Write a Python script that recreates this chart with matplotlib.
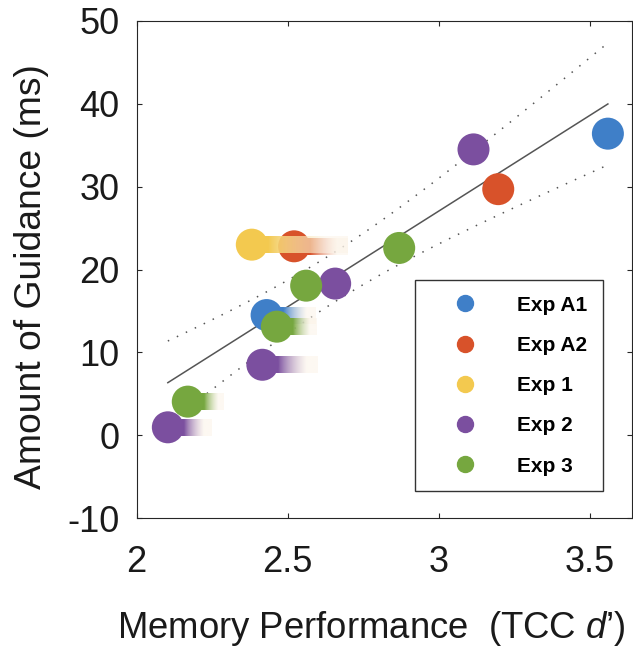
import numpy as np
import matplotlib
matplotlib.use('Agg')
import matplotlib.pyplot as plt
from matplotlib.lines import Line2D
from matplotlib.colors import to_rgb

plt.rcParams['font.family'] = ['Liberation Sans', 'DejaVu Sans']
plt.rcParams['mathtext.fontset'] = 'custom'
plt.rcParams['mathtext.it'] = 'Liberation Sans:italic'
plt.rcParams['mathtext.rm'] = 'Liberation Sans'
plt.rcParams['axes.unicode_minus'] = False

# Data (read off the figure): memory d' and guidance (ms) per experiment,
# tail_end = right end of the faded bar (nan = no bar)
exp_names = ['Exp A1', 'Exp A2', 'Exp 1', 'Exp 2', 'Exp 3']
exp_colors = ['#3f7fc8', '#d8522a', '#f3c94f', '#7b4f9f', '#76a73f']

a1_dprime = [2.430, 3.560]
a1_guidance = [14.5, 36.4]
a1_tail_end = [2.590, np.nan]

a2_dprime = [2.521, 3.197]
a2_guidance = [22.8, 29.7]
a2_tail_end = [2.697, np.nan]

e1_dprime = [2.381]
e1_guidance = [23.0]
e1_tail_end = [2.697]

e2_dprime = [2.103, 2.416, 2.657, 3.115]
e2_guidance = [0.95, 8.5, 18.3, 34.5]
e2_tail_end = [2.248, 2.600, np.nan, np.nan]

e3_dprime = [2.169, 2.464, 2.561, 2.869]
e3_guidance = [4.05, 13.1, 18.05, 22.6]
e3_tail_end = [2.286, 2.596, np.nan, np.nan]

groups = [(a1_dprime, a1_guidance, a1_tail_end),
          (a2_dprime, a2_guidance, a2_tail_end),
          (e1_dprime, e1_guidance, e1_tail_end),
          (e2_dprime, e2_guidance, e2_tail_end),
          (e3_dprime, e3_guidance, e3_tail_end)]

T_CRIT = 2.201  # t(0.975, df=11)

fig = plt.figure(figsize=(6.33, 6.52), dpi=100)
ax = fig.add_axes([0.216, 0.2055, 0.7825, 0.7623])

# regression line with 95% confidence bounds
all_x = np.concatenate([np.array(g[0]) for g in groups])
all_y = np.concatenate([np.array(g[1]) for g in groups])
slope, icpt = np.polyfit(all_x, all_y, 1)
n = len(all_x)
resid = all_y - (slope * all_x + icpt)
s = np.sqrt(np.sum(resid**2) / (n - 2))
sxx = np.sum((all_x - all_x.mean())**2)
xf = np.linspace(all_x.min(), all_x.max(), 100)
yf = slope * xf + icpt
half = T_CRIT * s * np.sqrt(1 / n + (xf - all_x.mean())**2 / sxx)

ax.plot(xf, yf, color='#555555', lw=1.1, zorder=1)
ax.plot(xf, yf + half, color='#555555', lw=1.1, ls=(0, (1, 5.5)), zorder=1)
ax.plot(xf, yf - half, color='#555555', lw=1.1, ls=(0, (1, 5.5)), zorder=1)

# points with faded tails
radius = 0.053   # circle radius in d' units
tail_h = 2.05    # bar thickness in ms
cream = np.array(to_rgb('#fcf4e8'))
z = 2
for (xs, ys, tails), col in zip(groups, exp_colors):
    base = np.array(to_rgb(col))
    for xv, yv, te in zip(xs, ys, tails):
        if not np.isnan(te):
            ncol = 120
            xcols = np.linspace(xv, te, ncol)
            t = np.clip((xcols - (xv + radius)) / (te - xv - radius), 0, 1)
            f = np.clip(t / 0.72, 0, 1) ** 0.9
            img = np.zeros((1, ncol, 4))
            img[0, :, :3] = base[None, :] * (1 - f[:, None]) + cream[None, :] * f[:, None]
            img[0, :, 3] = 1 - 0.45 * f
            ax.imshow(img, extent=[xv, te, yv - tail_h / 2, yv + tail_h / 2],
                      aspect='auto', interpolation='bilinear', origin='lower', zorder=z)
        ax.scatter([xv], [yv], s=531, color=col, edgecolors='none', zorder=z + 1)
        z += 2

ax.set_xlim(2, 3.640)
ax.set_ylim(-10, 50)
ax.set_aspect('auto')
ax.set_xticks([2, 2.5, 3, 3.5])
ax.set_xticklabels(['2', '2.5', '3', '3.5'])
ax.set_yticks([-10, 0, 10, 20, 30, 40, 50])

for sp in ax.spines.values():
    sp.set_color('#262626')
    sp.set_linewidth(0.8)
ax.tick_params(direction='in', length=3.5, width=0.8, top=True, right=True,
               labelsize=26, colors='#262626', labelcolor='#1a1a1a')
ax.tick_params(axis='x', pad=19.5)
ax.tick_params(axis='y', pad=12.5)

ax.set_xlabel('Memory Performance  (TCC $\\mathit{d}$\u2019)', fontsize=26.3, color='#1a1a1a')
ax.set_ylabel('Amount of Guidance (ms)', fontsize=26.8, color='#1a1a1a')
ax.xaxis.set_label_coords(0.474, -0.184)
ax.yaxis.set_label_coords(-0.177, 0.486)

handles = [Line2D([], [], ls='none', marker='o', ms=11.5, mfc=c, mec=c) for c in exp_colors]
leg = ax.legend(handles, exp_names, loc='lower left', bbox_to_anchor=(0.562, 0.054),
                prop={'family': 'Liberation Sans', 'weight': 'bold', 'size': 15},
                frameon=True, fancybox=False, edgecolor='#333333', framealpha=1,
                borderpad=0.75, labelspacing=1.02, handlelength=3.3,
                handletextpad=0.84, borderaxespad=0)
leg.get_frame().set_linewidth(1.0)
leg.set_zorder(50)

fig.savefig('out.png', dpi=100)
